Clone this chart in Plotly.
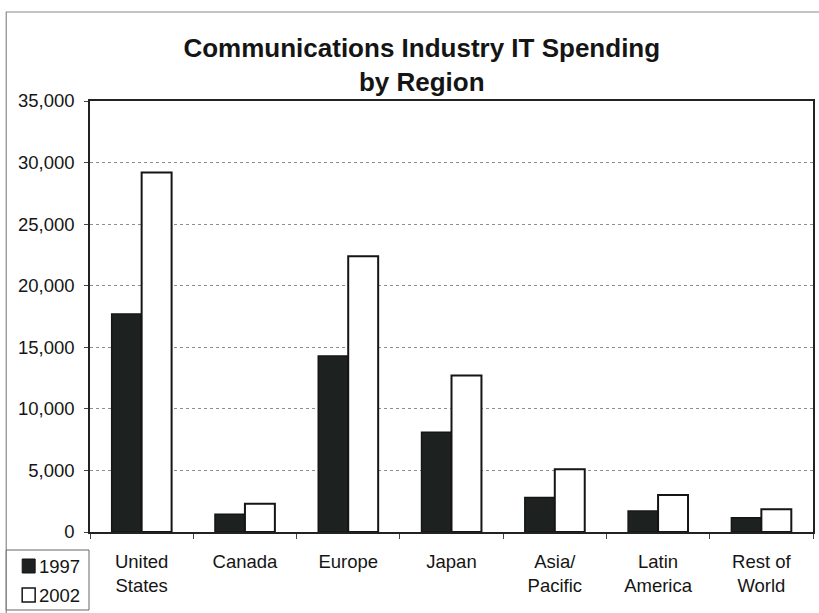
import plotly.graph_objects as go

regions = ["United<br>States", "Canada", "Europe", "Japan", "Asia/<br>Pacific", "Latin<br>America", "Rest of<br>World"]
spend_1997 = [17700, 1450, 14300, 8100, 2800, 1700, 1150]
spend_2002 = [29200, 2300, 22400, 12700, 5100, 3000, 1850]
y_ticks = [0, 5000, 10000, 15000, 20000, 25000, 30000, 35000]
series_names = ["1997", "2002"]

W, H = 819, 613
ML, MR, MT, MB = 90, 4, 101, 81
PW, PH = W - ML - MR, H - MT - MB

font = "Liberation Sans, Arial, sans-serif"
ink = "#151515"
dark_fill = "#1d2120"

fig = go.Figure()
fig.add_trace(go.Bar(
    x=regions, y=spend_1997, name=series_names[0], showlegend=False,
    marker=dict(color=dark_fill, line=dict(color=ink, width=1.5)),
))
fig.add_trace(go.Bar(
    x=regions, y=spend_2002, name=series_names[1], showlegend=False,
    marker=dict(color="white", line=dict(color=ink, width=2)),
))


def px_x(px):
    return (px - ML) / PW


def px_y(py):
    return (H - MB - py) / PH


# outer frame around the whole chart
fig.add_shape(type="rect", xref="paper", yref="paper",
              x0=px_x(6), x1=px_x(835), y0=px_y(640), y1=px_y(12),
              line=dict(color="#8a8a8a", width=1.2), layer="below")

# boxed key in the lower-left corner
fig.add_shape(type="rect", xref="paper", yref="paper",
              x0=px_x(6), x1=px_x(89), y0=px_y(610), y1=px_y(550),
              line=dict(color="#666", width=1), fillcolor="white")
key_rows = [(566, dark_fill, 1), (595, "white", 1.5)]
for (cy, fill, lw), name in zip(key_rows, series_names):
    fig.add_shape(type="rect", xref="paper", yref="paper",
                  x0=px_x(22), x1=px_x(35), y0=px_y(cy + 7), y1=px_y(cy - 7),
                  fillcolor=fill, line=dict(color=ink, width=lw))
    fig.add_annotation(xref="paper", yref="paper", x=px_x(37), y=px_y(cy),
                       xanchor="left", yanchor="middle", text=name,
                       showarrow=False, font=dict(family=font, size=18.5, color=ink))

fig.update_layout(
    width=W, height=H,
    margin=dict(l=ML, r=MR, t=MT, b=MB),
    paper_bgcolor="white", plot_bgcolor="white",
    barmode="group", bargap=0.42, bargroupgap=0,
    font=dict(family=font, size=15, color=ink),
    title=dict(
        text="<b>Communications Industry IT Spending<br>by Region</b>",
        x=0.515, xanchor="center", y=1 - 57 / H, yanchor="middle",
        font=dict(family=font, size=26, color=ink),
    ),
    showlegend=False,
    xaxis=dict(
        showline=True, linecolor="#222", linewidth=1.5, mirror=True,
        ticks="outside", tickson="boundaries", ticklen=5, tickcolor="#444",
        showgrid=False, tickfont=dict(size=18.5), ticklabelstandoff=12,
        fixedrange=True,
    ),
    yaxis=dict(
        range=[0, 35000], tickvals=y_ticks, tickformat=",d",
        showline=True, linecolor="#222", linewidth=1.5, mirror=True,
        ticks="outside", ticklen=4, tickcolor="#444",
        showgrid=True, gridcolor="#8e8e8e", gridwidth=1, griddash="dot",
        zeroline=False, tickfont=dict(size=18.5), ticklabelstandoff=6,
        fixedrange=True,
    ),
)

fig.write_html("out.html")
